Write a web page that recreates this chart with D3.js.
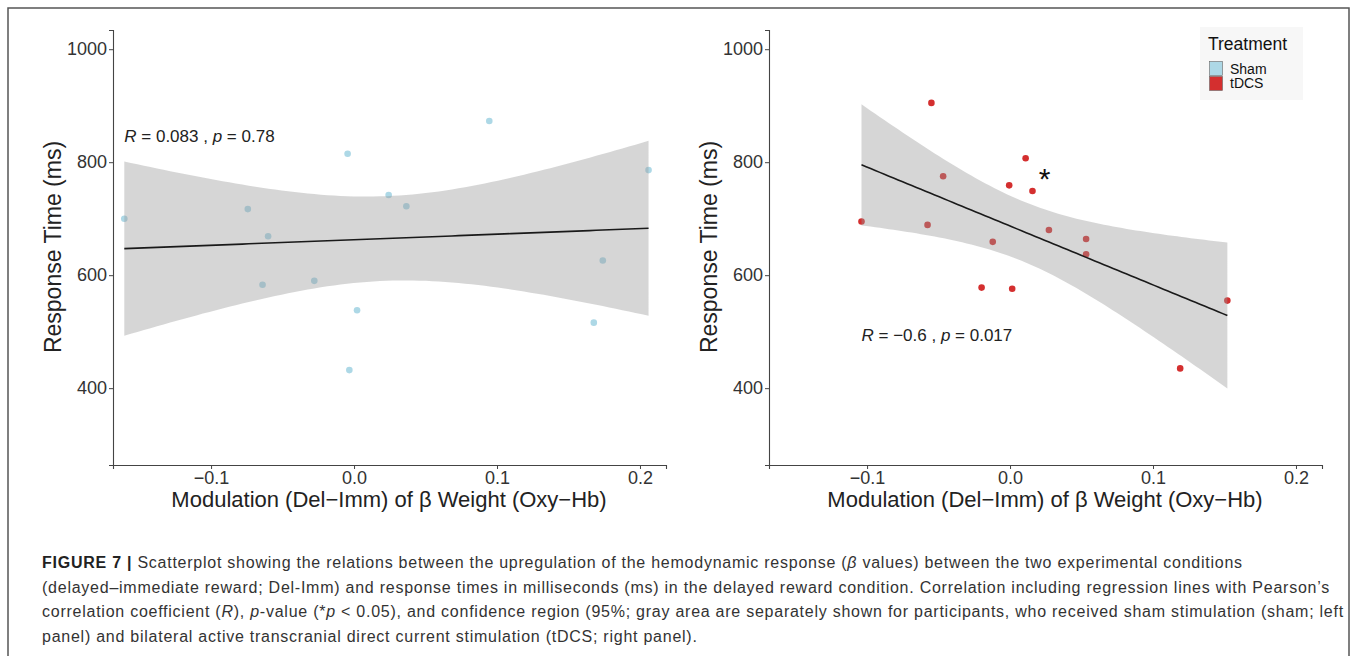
<!DOCTYPE html>
<html>
<head>
<meta charset="utf-8">
<script src="https://cdn.jsdelivr.net/npm/d3@7"></script>
<style>
  body { margin: 0; background: #fff; }
  svg text { font-family: "Liberation Sans", Arial, sans-serif; }
</style>
</head>
<body>
<div id="chart"></div>
<script>
// sham group (left panel)
const shamX = [-0.1607, -0.0743, -0.0601, -0.064, -0.0278, -0.0045, -0.0033, 0.0021, 0.0242, 0.0366, 0.0946, 0.1677, 0.174, 0.206];
const shamY = [700, 717, 669, 583, 590, 815, 432, 538, 742, 722, 873, 516, 626, 786];
// tDCS group (right panel)
const tdcsX = [-0.1039, -0.055, -0.0468, -0.0577, -0.0121, -0.0199, 0.0015, -0.0006, 0.0109, 0.0157, 0.0272, 0.0532, 0.0532, 0.152, 0.119];
const tdcsY = [695, 905, 775, 689, 659, 578, 576, 759, 807, 749, 680, 664, 637, 555, 435];

const xTicks = [-0.1, 0.0, 0.1, 0.2];
const yTicks = [400, 600, 800, 1000];
const xLimits = [-0.1686, 0.2182];
const yLimits = [264, 1034];

const statLabels = [
  { r: '0.083', p: '0.78', x: -0.1607, y: 847 },
  { r: '\u22120.6', p: '0.017', x: -0.1039, y: 494 }
];
const starMark = { x: 0.0242, y: 781 };

const legendNames = ['Sham', 'tDCS'];
const legendColors = ['#add8e6', '#d42f2f'];

const captionLines = [
  [['b', 'FIGURE 7 | '], ['', 'Scatterplot showing the relations between the upregulation of the hemodynamic response ('], ['i', 'β'], ['', ' values) between the two experimental conditions']],
  [['', '(delayed\u2013immediate reward; Del-Imm) and response times in milliseconds (ms) in the delayed reward condition. Correlation including regression lines with Pearson\u2019s']],
  [['', 'correlation coefficient ('], ['i', 'R'], ['', '), '], ['i', 'p'], ['', '-value (*'], ['i', 'p'], ['', ' < 0.05), and confidence region (95%; gray area are separately shown for participants, who received sham stimulation (sham; left']],
  [['', 'panel) and bilateral active transcranial direct current stimulation (tDCS; right panel).']]
];

const W = 1357, H = 656;
const svg = d3.select('#chart').append('svg')
  .attr('width', W)
  .attr('height', H);

svg.append('rect')
  .attr('x', 8).attr('y', 8)
  .attr('width', 1341).attr('height', 660)
  .attr('fill', 'none')
  .attr('stroke', '#555')
  .attr('stroke-width', 1.5);

// t quantiles (0.975) for n-2 degrees of freedom
const tCrit = { 12: 2.179, 13: 2.160 };

function fitLine(xs, ys) {
  const n = xs.length;
  const mx = d3.mean(xs), my = d3.mean(ys);
  let sxx = 0, sxy = 0;
  xs.forEach((x, i) => { sxx += (x - mx) ** 2; sxy += (x - mx) * (ys[i] - my); });
  const b = sxy / sxx, a = my - b * mx;
  let sse = 0;
  xs.forEach((x, i) => { sse += (ys[i] - a - b * x) ** 2; });
  const s = Math.sqrt(sse / (n - 2));
  const t = tCrit[n - 2];
  const ext = d3.extent(xs);
  const grid = d3.range(0, 81).map(k => ext[0] + (ext[1] - ext[0]) * k / 80);
  return grid.map(x => {
    const fit = a + b * x;
    const se = s * Math.sqrt(1 / n + (x - mx) ** 2 / sxx);
    return { x, fit, lo: fit - t * se, hi: fit + t * se };
  });
}

function panel(left, xs, ys, color, label, showStar) {
  const x = d3.scaleLinear().domain(xLimits).range([left, left + 553]);
  const y = d3.scaleLinear().domain(yLimits).range([465, 30]);
  const g = svg.append('g');

  g.selectAll('circle.pt')
    .data(xs.map((d, i) => [d, ys[i]]))
    .join('circle')
      .attr('class', 'pt')
      .attr('cx', d => x(d[0]))
      .attr('cy', d => y(d[1]))
      .attr('r', 3.3)
      .attr('fill', color);

  const band = fitLine(xs, ys);
  g.append('path')
    .datum(band)
    .attr('fill', '#999')
    .attr('fill-opacity', 0.4)
    .attr('d', d3.area().x(d => x(d.x)).y0(d => y(d.lo)).y1(d => y(d.hi)));
  g.append('path')
    .datum(band)
    .attr('fill', 'none')
    .attr('stroke', '#1a1a1a')
    .attr('stroke-width', 1.6)
    .attr('d', d3.line().x(d => x(d.x)).y(d => y(d.fit)));

  const xAxis = g.append('g')
    .attr('transform', 'translate(0,465)')
    .call(d3.axisBottom(x).tickValues(xTicks).tickSize(4).tickPadding(2)
      .tickFormat(d => d3.format('.1f')(d).replace('-', '\u2212')));
  const yAxis = g.append('g')
    .attr('transform', `translate(${left},0)`)
    .call(d3.axisLeft(y).tickValues(yTicks).tickSize(4).tickPadding(2)
      .tickFormat(d3.format('d')));
  [xAxis, yAxis].forEach(ax => {
    ax.select('.domain').attr('stroke', '#444').attr('stroke-width', 1.1);
    ax.selectAll('.tick line').attr('stroke', '#444');
    ax.selectAll('.tick text')
      .attr('fill', '#333')
      .style('font-size', '18px');
  });

  g.append('text')
    .attr('x', left + 276).attr('y', 507)
    .attr('text-anchor', 'middle')
    .attr('fill', '#222')
    .style('font-size', '22px')
    .text('Modulation (Del\u2212Imm) of \u03b2 Weight (Oxy\u2212Hb)');
  g.append('text')
    .attr('transform', `translate(${left - 52},247) rotate(-90)`)
    .attr('text-anchor', 'middle')
    .attr('fill', '#222')
    .style('font-size', '23px')
    .text('Response Time (ms)');

  const t = g.append('text')
    .attr('x', x(label.x)).attr('y', y(label.y) + 6)
    .attr('fill', '#222')
    .style('font-size', '17px');
  t.append('tspan').style('font-style', 'italic').text('R');
  t.append('tspan').text(` = ${label.r} , `);
  t.append('tspan').style('font-style', 'italic').text('p');
  t.append('tspan').text(` = ${label.p}`);

  if (showStar) {
    g.append('text')
      .attr('x', x(starMark.x)).attr('y', y(starMark.y) + 16)
      .attr('text-anchor', 'middle')
      .attr('fill', '#111')
      .style('font-size', '30px')
      .text('*');
  }
}

panel(113, shamX, shamY, legendColors[0], statLabels[0], false);
panel(769, tdcsX, tdcsY, legendColors[1], statLabels[1], true);

// legend
const lg = svg.append('g').attr('transform', 'translate(1200,27)');
lg.append('rect').attr('width', 103).attr('height', 73).attr('fill', '#f7f7f7');
lg.append('text')
  .attr('x', 8).attr('y', 23)
  .attr('fill', '#111')
  .style('font-size', '17.5px')
  .text('Treatment');
legendNames.forEach((name, i) => {
  lg.append('rect')
    .attr('x', 9.5).attr('y', 34.5 + i * 15)
    .attr('width', 13).attr('height', 14)
    .attr('fill', legendColors[i])
    .attr('stroke', '#666')
    .attr('stroke-width', 0.6);
  lg.append('text')
    .attr('x', 30).attr('y', 47 + i * 14)
    .attr('fill', '#111')
    .style('font-size', '14px')
    .text(name);
});

// caption
const cap = svg.append('g');
captionLines.forEach((parts, i) => {
  const t = cap.append('text')
    .attr('x', 42).attr('y', 568 + i * 24.7)
    .attr('fill', '#333')
    .style('font-size', '16px')
    .style('letter-spacing', '0.75px');
  parts.forEach(([style, str]) => {
    const s = t.append('tspan').text(str);
    if (style === 'b') s.style('font-weight', 'bold').attr('fill', '#222');
    if (style === 'i') s.style('font-style', 'italic');
  });
});
</script>
</body>
</html>
